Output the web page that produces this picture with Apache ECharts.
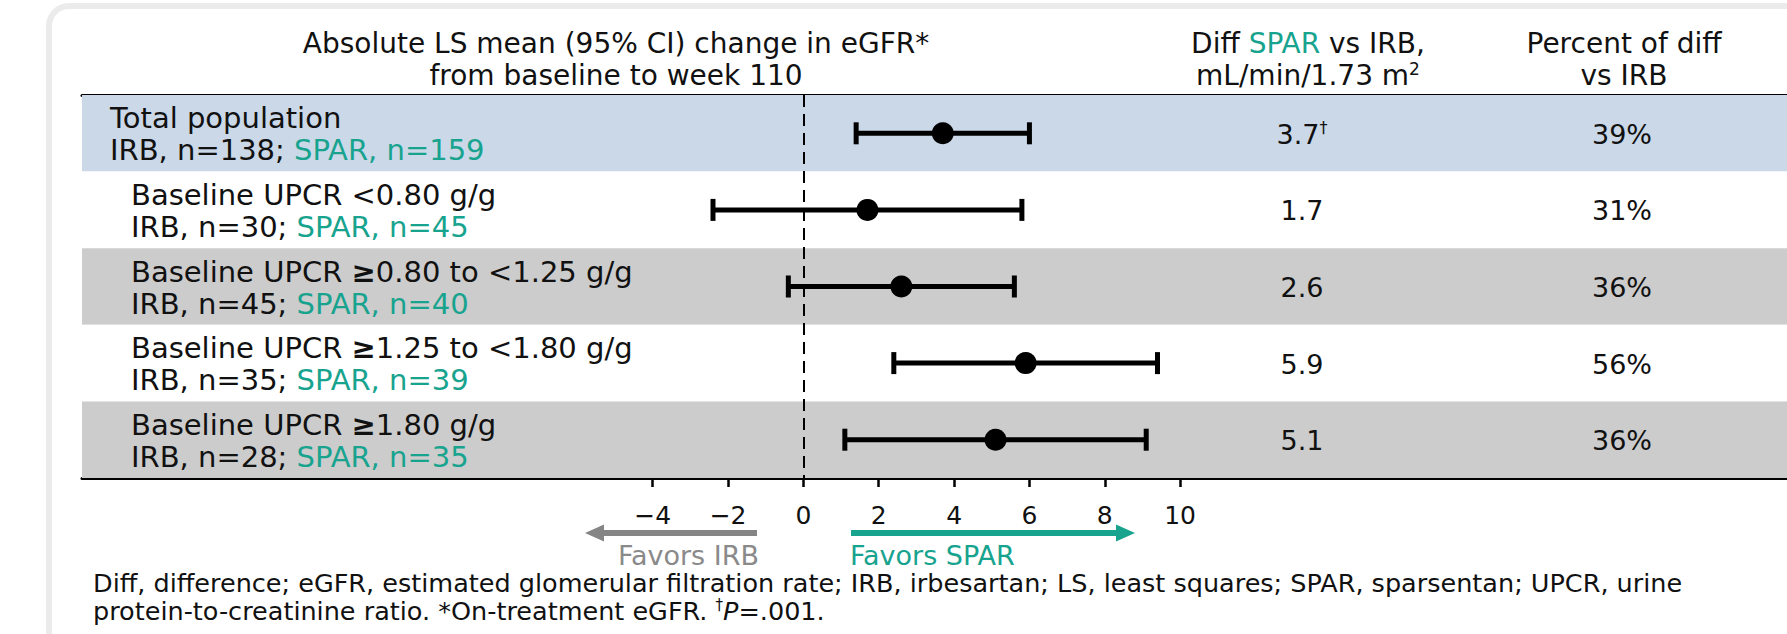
<!DOCTYPE html>
<html>
<head>
<meta charset="utf-8">
<script src="https://cdn.jsdelivr.net/npm/echarts@6/dist/echarts.min.js"></script>
<style>
html, body { margin: 0; padding: 0; background: #fff; }
#main { width: 1787px; height: 634px; }
</style>
</head>
<body>
<div id="main"></div>
<script>
"use strict";
// rows of the forest plot, top to bottom
let rowTitles = ['Total population', 'Baseline UPCR <0.80 g/g', 'Baseline UPCR ≥0.80 to <1.25 g/g', 'Baseline UPCR ≥1.25 to <1.80 g/g', 'Baseline UPCR ≥1.80 g/g'];
let irbN = [138, 30, 45, 35, 28];
let sparN = [159, 45, 40, 39, 35];
let meanDiff = [3.7, 1.7, 2.6, 5.9, 5.1];
let ciLow = [1.4, -2.4, -0.4, 2.4, 1.1];
let ciHigh = [6.0, 5.8, 5.6, 9.4, 9.1];
let diffLabels = ['3.7', '1.7', '2.6', '5.9', '5.1'];
let diffMarks = ['†', '', '', '', ''];
let percentLabels = ['39%', '31%', '36%', '56%', '36%'];
let tickValues = [-4, -2, 0, 2, 4, 6, 8, 10];

const TEAL = '#17a38e';
const FONT = 'DejaVu Sans';
let rowFills = ['#cbd8e8', '#ffffff', '#cccccc', '#ffffff', '#cccccc'];

let myChart = echarts.init(document.getElementById('main'), null, { renderer: 'svg' });

function titleRich(s) {
    let parts = s.split('≥');
    if (parts.length > 1) {
        return '{t|' + parts[0] + '}{ge|≥}{t|' + parts[1] + '}';
    }
    return '{t|' + s + '}';
}

function renderRow(params, api) {
    let i = api.value(1);
    let cs = params.coordSys;
    let yc = api.coord([0, i])[1];
    let h = api.size([0, 1])[1];
    let indent = i === 0 ? 28 : 49;
    let rowText = titleRich(rowTitles[i]) + '\n{irb|IRB, n=' + irbN[i] + '; }{spar|SPAR, n=' + sparN[i] + '}';
    let diffText = '{n|' + diffLabels[i] + '}' + (diffMarks[i] ? '{sup|' + diffMarks[i] + '}' : '');
    return {
        type: 'group',
        children: [
            { type: 'rect', shape: { x: cs.x, y: yc - h / 2, width: cs.width, height: h }, style: { fill: rowFills[i] } },
            {
                type: 'text', x: cs.x + indent, y: yc + 1,
                style: {
                    text: rowText, align: 'left', verticalAlign: 'middle',
                    rich: {
                        t: { fontFamily: FONT, fontSize: 29, lineHeight: 32, fill: '#111' },
                        ge: { fontFamily: FONT, fontSize: 29, lineHeight: 32, fontWeight: 'bold', fill: '#111' },
                        irb: { fontFamily: FONT, fontSize: 29, lineHeight: 32, fill: '#111' },
                        spar: { fontFamily: FONT, fontSize: 29, lineHeight: 32, fill: TEAL }
                    }
                }
            },
            {
                type: 'text', x: 1302, y: yc + 1,
                style: {
                    text: diffText, align: 'center', verticalAlign: 'middle',
                    rich: {
                        n: { fontFamily: FONT, fontSize: 27, fill: '#111' },
                        sup: { fontFamily: FONT, fontSize: 16, fill: '#111', padding: [0, 0, 13, 0] }
                    }
                }
            },
            {
                type: 'text', x: 1622, y: yc + 1,
                style: { text: percentLabels[i], align: 'center', verticalAlign: 'middle', fontFamily: FONT, fontSize: 27, fill: '#111' }
            }
        ]
    };
}

function renderCI(params, api) {
    let i = api.value(2);
    let p1 = api.coord([api.value(0), i]);
    let p2 = api.coord([api.value(1), i]);
    let cap = 11;
    let st = { stroke: '#000', lineWidth: 5 };
    return {
        type: 'group',
        children: [
            { type: 'line', shape: { x1: p1[0], y1: p1[1], x2: p2[0], y2: p2[1] }, style: st },
            { type: 'line', shape: { x1: p1[0], y1: p1[1] - cap, x2: p1[0], y2: p1[1] + cap }, style: st },
            { type: 'line', shape: { x1: p2[0], y1: p2[1] - cap, x2: p2[0], y2: p2[1] + cap }, style: st }
        ]
    };
}

let rowData = rowTitles.map(function (t, i) { return [0, i]; });
let ciData = ciLow.map(function (lo, i) { return [lo, ciHigh[i], i]; });
let meanData = meanDiff.map(function (m, i) { return [m, i]; });

let option = {
    animation: false,
    backgroundColor: '#ffffff',
    grid: { left: 82, right: 0, top: 95, bottom: 156 },
    xAxis: [{
        type: 'value', position: 'bottom',
        min: -19.15, max: 26.11,
        splitLine: { show: false },
        axisLine: { show: true, onZero: false, lineStyle: { color: '#000', width: 3 } },
        axisTick: { show: true, customValues: tickValues, length: 9, lineStyle: { color: '#000', width: 2.5 } },
        axisLabel: {
            customValues: tickValues, margin: 25, color: '#111', fontFamily: FONT, fontSize: 25,
            formatter: function (v) { return v < 0 ? '−' + Math.abs(v) : String(v); }
        }
    }, {
        type: 'value', position: 'top',
        min: -19.15, max: 26.11,
        splitLine: { show: false },
        axisLine: { show: true, onZero: false, lineStyle: { color: '#000', width: 3 } },
        axisTick: { show: false },
        axisLabel: { show: false }
    }],
    yAxis: {
        type: 'category', inverse: true,
        data: rowTitles,
        axisLine: { show: false },
        axisTick: { show: false },
        axisLabel: { show: false },
        splitLine: { show: false }
    },
    series: [{
        name: 'rows', type: 'custom', z: 1,
        renderItem: renderRow,
        encode: { x: 0, y: 1 },
        data: rowData
    }, {
        name: 'ci', type: 'custom', z: 3,
        renderItem: renderCI,
        encode: { x: [0, 1], y: 2 },
        data: ciData
    }, {
        name: 'mean', type: 'scatter', z: 4,
        symbol: 'circle', symbolSize: 22,
        itemStyle: { color: '#000', opacity: 1 },
        data: meanData,
        markLine: {
            silent: true, symbol: 'none',
            label: { show: false },
            lineStyle: { color: '#000', width: 2, type: [12, 7], opacity: 1 },
            data: [{ xAxis: 0 }]
        }
    }],
    graphic: [
        { type: 'rect', z: -10, shape: { x: 49, y: 6, width: 1800, height: 700, r: 20 }, style: { fill: '#fff', stroke: '#ebebeb', lineWidth: 6 } },
        { type: 'text', x: 616, y: 43, style: { text: 'Absolute LS mean (95% CI) change in eGFR*', align: 'center', verticalAlign: 'middle', fontFamily: FONT, fontSize: 28, fill: '#111' } },
        { type: 'text', x: 616, y: 75, style: { text: 'from baseline to week 110', align: 'center', verticalAlign: 'middle', fontFamily: FONT, fontSize: 28, fill: '#111' } },
        {
            type: 'text', x: 1308, y: 43,
            style: {
                text: '{h|Diff }{s|SPAR}{h| vs IRB,}', align: 'center', verticalAlign: 'middle',
                rich: { h: { fontFamily: FONT, fontSize: 28, fill: '#111' }, s: { fontFamily: FONT, fontSize: 28, fill: TEAL } }
            }
        },
        {
            type: 'text', x: 1308, y: 75,
            style: {
                text: '{h|mL/min/1.73 m}{sup|2}', align: 'center', verticalAlign: 'middle',
                rich: { h: { fontFamily: FONT, fontSize: 28, fill: '#111' }, sup: { fontFamily: FONT, fontSize: 17, fill: '#111', padding: [0, 0, 13, 0] } }
            }
        },
        { type: 'text', x: 1624, y: 43, style: { text: 'Percent of diff', align: 'center', verticalAlign: 'middle', fontFamily: FONT, fontSize: 28, fill: '#111' } },
        { type: 'text', x: 1624, y: 75, style: { text: 'vs IRB', align: 'center', verticalAlign: 'middle', fontFamily: FONT, fontSize: 28, fill: '#111' } },
        // favors arrows
        { type: 'line', shape: { x1: 757, y1: 533, x2: 600, y2: 533 }, style: { stroke: '#858585', lineWidth: 6 } },
        { type: 'polygon', shape: { points: [[585, 533], [604, 524.5], [604, 541.5]] }, style: { fill: '#858585' } },
        { type: 'line', shape: { x1: 851, y1: 533, x2: 1120, y2: 533 }, style: { stroke: TEAL, lineWidth: 6 } },
        { type: 'polygon', shape: { points: [[1135, 533], [1116, 524.5], [1116, 541.5]] }, style: { fill: TEAL } },
        { type: 'text', x: 759, y: 555, style: { text: 'Favors IRB', align: 'right', verticalAlign: 'middle', fontFamily: FONT, fontSize: 27, fill: '#8a8a8a' } },
        { type: 'text', x: 850, y: 555, style: { text: 'Favors SPAR', align: 'left', verticalAlign: 'middle', fontFamily: FONT, fontSize: 27, fill: TEAL } },
        // footnote
        { type: 'text', x: 93, y: 583, style: { text: 'Diff, difference; eGFR, estimated glomerular filtration rate; IRB, irbesartan; LS, least squares; SPAR, sparsentan; UPCR, urine', align: 'left', verticalAlign: 'middle', fontFamily: FONT, fontSize: 25.5, fill: '#111' } },
        {
            type: 'text', x: 93, y: 611,
            style: {
                text: '{f|protein-to-creatinine ratio. *On-treatment eGFR. }{sup|†}{i|P}{f|=.001.}', align: 'left', verticalAlign: 'middle',
                rich: {
                    f: { fontFamily: FONT, fontSize: 25.5, fill: '#111' },
                    i: { fontFamily: FONT, fontSize: 25.5, fontStyle: 'italic', fill: '#111' },
                    sup: { fontFamily: FONT, fontSize: 15, fill: '#111', padding: [0, 0, 12, 0] }
                }
            }
        }
    ]
};
myChart.setOption(option);
</script>
</body>
</html>
